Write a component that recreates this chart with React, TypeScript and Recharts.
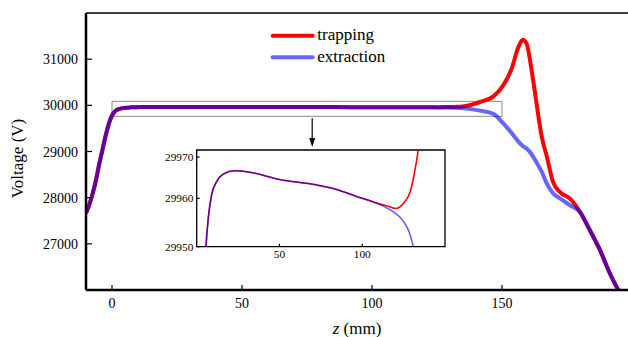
import {
  Legend,
  Line,
  LineChart,
  ReferenceArea,
  ReferenceDot,
  ReferenceLine,
  XAxis,
  YAxis,
} from "recharts";

// z position (mm) and electrode voltage (V) for the two modes
const zPos = [
  -10, -8.8, -7.6, -6.3, -5, -3.7, -2.4, -1.2, 0, 1.4, 3, 4.5, 5.6, 7, 9, 12, 16, 23, 32, 50, 72, 84,
  100, 108, 112, 116, 120, 125, 129, 132, 134, 137, 141.5, 146.7, 150.5, 153.7, 156.3, 158, 159.5,
  161.4, 163.3, 165.3, 167.2, 169.7, 172.3, 176.2, 180, 183.8, 187.7, 191.5, 194.7,
];
const trapping = [
  27660, 27840, 28056, 28344, 28704, 29028, 29352, 29605, 29780, 29885, 29925, 29942, 29950,
  29955.9, 29960.7, 29963.4, 29965, 29965.7, 29965.4, 29963.9, 29962.8, 29961.9, 29960, 29959.1,
  29958.7, 29958.3, 29957.9, 29959, 29961.4, 29966.2, 29971, 29995, 30072, 30194, 30432, 30792,
  31260, 31418, 31332, 30756, 30036, 29316, 28900, 28330, 28121, 27978, 27689, 27294, 26862,
  26358, 26000,
];
const extraction = [
  27660, 27840, 28056, 28344, 28704, 29028, 29352, 29605, 29780, 29885, 29925, 29942, 29950,
  29955.9, 29960.7, 29963.4, 29965, 29965.7, 29965.4, 29963.9, 29962.8, 29961.9, 29960, 29959.1,
  29958.5, 29957.8, 29956.9, 29955.2, 29952.4, 29948, 29943, 29925, 29885, 29815, 29610, 29400,
  29215, 29120, 29064, 28940, 28760, 28560, 28310, 28090, 27985, 27834, 27689, 27294, 26862,
  26358, 26000,
];

const mainXTicks = [0, 50, 100, 150];
const mainYTicks = [27000, 28000, 29000, 30000, 31000];
const insetXTicks = [50, 100];
const insetYTicks = [29950, 29960, 29970];

const series = [
  { key: "trapping", color: "#ff0000", opacity: 1 },
  { key: "extraction", color: "#0000ff", opacity: 0.6 },
];

const data = zPos.map((z, i) => ({ z, trapping: trapping[i], extraction: extraction[i] }));

const SERIF = "Liberation Serif, DejaVu Serif, serif";

// ticks point into the plot, so draw line + text ourselves
const yTick = (len: number, gap: number, fontSize: number, dy: number) =>
  function YTick(props: any) {
    const { x, y, payload } = props;
    return (
      <g>
        <line x1={x} x2={x + len} y1={y} y2={y} stroke="#000" strokeWidth={1.2} />
        <text x={x - gap} y={y + dy} textAnchor="end" style={{ fontFamily: SERIF, fontSize }} fill="#000">
          {payload.value}
        </text>
      </g>
    );
  };

const xTick = (len: number, fontSize: number, dy: number) =>
  function XTick(props: any) {
    const { x, y, payload } = props;
    return (
      <g>
        <line x1={x} x2={x} y1={y} y2={y - len} stroke="#000" strokeWidth={1.2} />
        <text x={x} y={y + dy} textAnchor="middle" style={{ fontFamily: SERIF, fontSize }} fill="#000">
          {payload.value}
        </text>
      </g>
    );
  };

function XTitle(props: any) {
  const vb = props.viewBox ?? { x: 86, y: 290, width: 546, height: 47 };
  return (
    <text
      x={vb.x + vb.width / 2 - 2}
      y={vb.y + 43.5}
      textAnchor="middle"
      style={{ fontFamily: SERIF, fontSize: 17 }}
      fill="#000"
    >
      <tspan fontStyle="italic">z</tspan> (mm)
    </text>
  );
}

function YTitle(props: any) {
  const vb = props.viewBox ?? { x: 0, y: 13, width: 86, height: 277 };
  const tx = vb.x + 23.3;
  const ty = vb.y + vb.height / 2 + 7;
  return (
    <text
      x={tx}
      y={ty}
      textAnchor="middle"
      style={{ fontFamily: SERIF, fontSize: 17 }}
      fill="#000"
      transform={`rotate(-90, ${tx}, ${ty})`}
    >
      Voltage (V)
    </text>
  );
}

function LegendBox() {
  return (
    <svg width={150} height={50}>
      {series.map((s, i) => (
        <g key={s.key}>
          <line
            x1={4.7}
            x2={44.7}
            y1={13.7 + i * 21.6}
            y2={13.7 + i * 21.6}
            stroke={s.color}
            strokeOpacity={s.opacity}
            strokeWidth={4}
            strokeLinecap="round"
          />
          <text x={49.3} y={18.4 + i * 21.6} style={{ fontFamily: SERIF, fontSize: 17 }} fill="#000">
            {s.key}
          </text>
        </g>
      ))}
    </svg>
  );
}

function ArrowHead(props: any) {
  const { cx, cy } = props;
  if (cx == null || cy == null) return null;
  return <path d={`M${cx},${cy} L${cx - 3},${cy - 9} L${cx + 3},${cy - 9} Z`} fill="#000" />;
}

export default function App() {
  return (
    <div
      style={{
        position: "absolute",
        left: 0,
        top: 0,
        width: 628,
        height: 337,
        overflow: "hidden",
        background: "#fff",
        fontFamily: SERIF,
      }}
    >
      <LineChart width={640} height={337} data={data} margin={{ top: 13, right: 8, bottom: 0, left: 0 }}>
        <XAxis
          dataKey="z"
          type="number"
          domain={[-10, 200]}
          allowDataOverflow
          ticks={mainXTicks}
          tickSize={0}
          tickMargin={0}
          tickLine={false}
          tick={xTick(5, 14, 17.6)}
          axisLine={{ stroke: "#000", strokeWidth: 2.7 }}
          height={47}
          label={<XTitle />}
        />
        <YAxis
          type="number"
          domain={[26000, 32000]}
          allowDataOverflow
          ticks={mainYTicks}
          tickSize={0}
          tickMargin={0}
          tickLine={false}
          tick={yTick(6, 8, 14, 5)}
          axisLine={{ stroke: "#000", strokeWidth: 2.5 }}
          width={86}
          label={<YTitle />}
        />
        <ReferenceLine y={32000} stroke="#000" strokeWidth={1.3} />
        <ReferenceArea x1={0} x2={150} y1={29762} y2={30086} fill="none" stroke="#8c8c8c" strokeWidth={1} />
        <ReferenceLine
          segment={[
            { x: 77, y: 29720 },
            { x: 77, y: 29200 },
          ]}
          stroke="#000"
          strokeWidth={1.2}
        />
        <ReferenceDot x={77} y={29100} r={3} shape={<ArrowHead />} />
        {series.map((s) => (
          <Line
            key={s.key}
            dataKey={s.key}
            type="monotone"
            stroke={s.color}
            strokeOpacity={s.opacity}
            strokeWidth={4}
            dot={false}
            activeDot={false}
            isAnimationActive={false}
          />
        ))}
        <Legend
          layout="vertical"
          align="center"
          verticalAlign="middle"
          content={<LegendBox />}
          wrapperStyle={{ top: 22, left: 268, width: 150, height: 50 }}
        />
      </LineChart>

      {/* zoomed inset of the flat top */}
      <div style={{ position: "absolute", left: 150, top: 148, width: 298, height: 120 }}>
        <LineChart width={298} height={120} data={data} margin={{ top: 2, right: 3, bottom: 0, left: 0 }}>
          <XAxis
            dataKey="z"
            type="number"
            domain={[0, 150]}
            allowDataOverflow
            ticks={insetXTicks}
            tickSize={0}
            tickMargin={0}
            tickLine={false}
            tick={xTick(3, 11.3, 11)}
            axisLine={false}
            height={21.3}
          />
          <YAxis
            type="number"
            domain={[29950, 29970]}
            allowDataOverflow
            ticks={insetYTicks}
            tickSize={0}
            tickMargin={0}
            tickLine={false}
            tick={yTick(3, 3.4, 11.3, 4)}
            axisLine={false}
            width={46.7}
          />
          {series.map((s) => (
            <Line
              key={s.key}
              dataKey={s.key}
              type="monotone"
              stroke={s.color}
              strokeOpacity={s.opacity}
              strokeWidth={1.6}
              dot={false}
              activeDot={false}
              isAnimationActive={false}
            />
          ))}
          <ReferenceArea x1={0} x2={150} y1={29950} y2={29970} fill="none" stroke="#000" strokeWidth={1.3} />
        </LineChart>
      </div>
    </div>
  );
}
